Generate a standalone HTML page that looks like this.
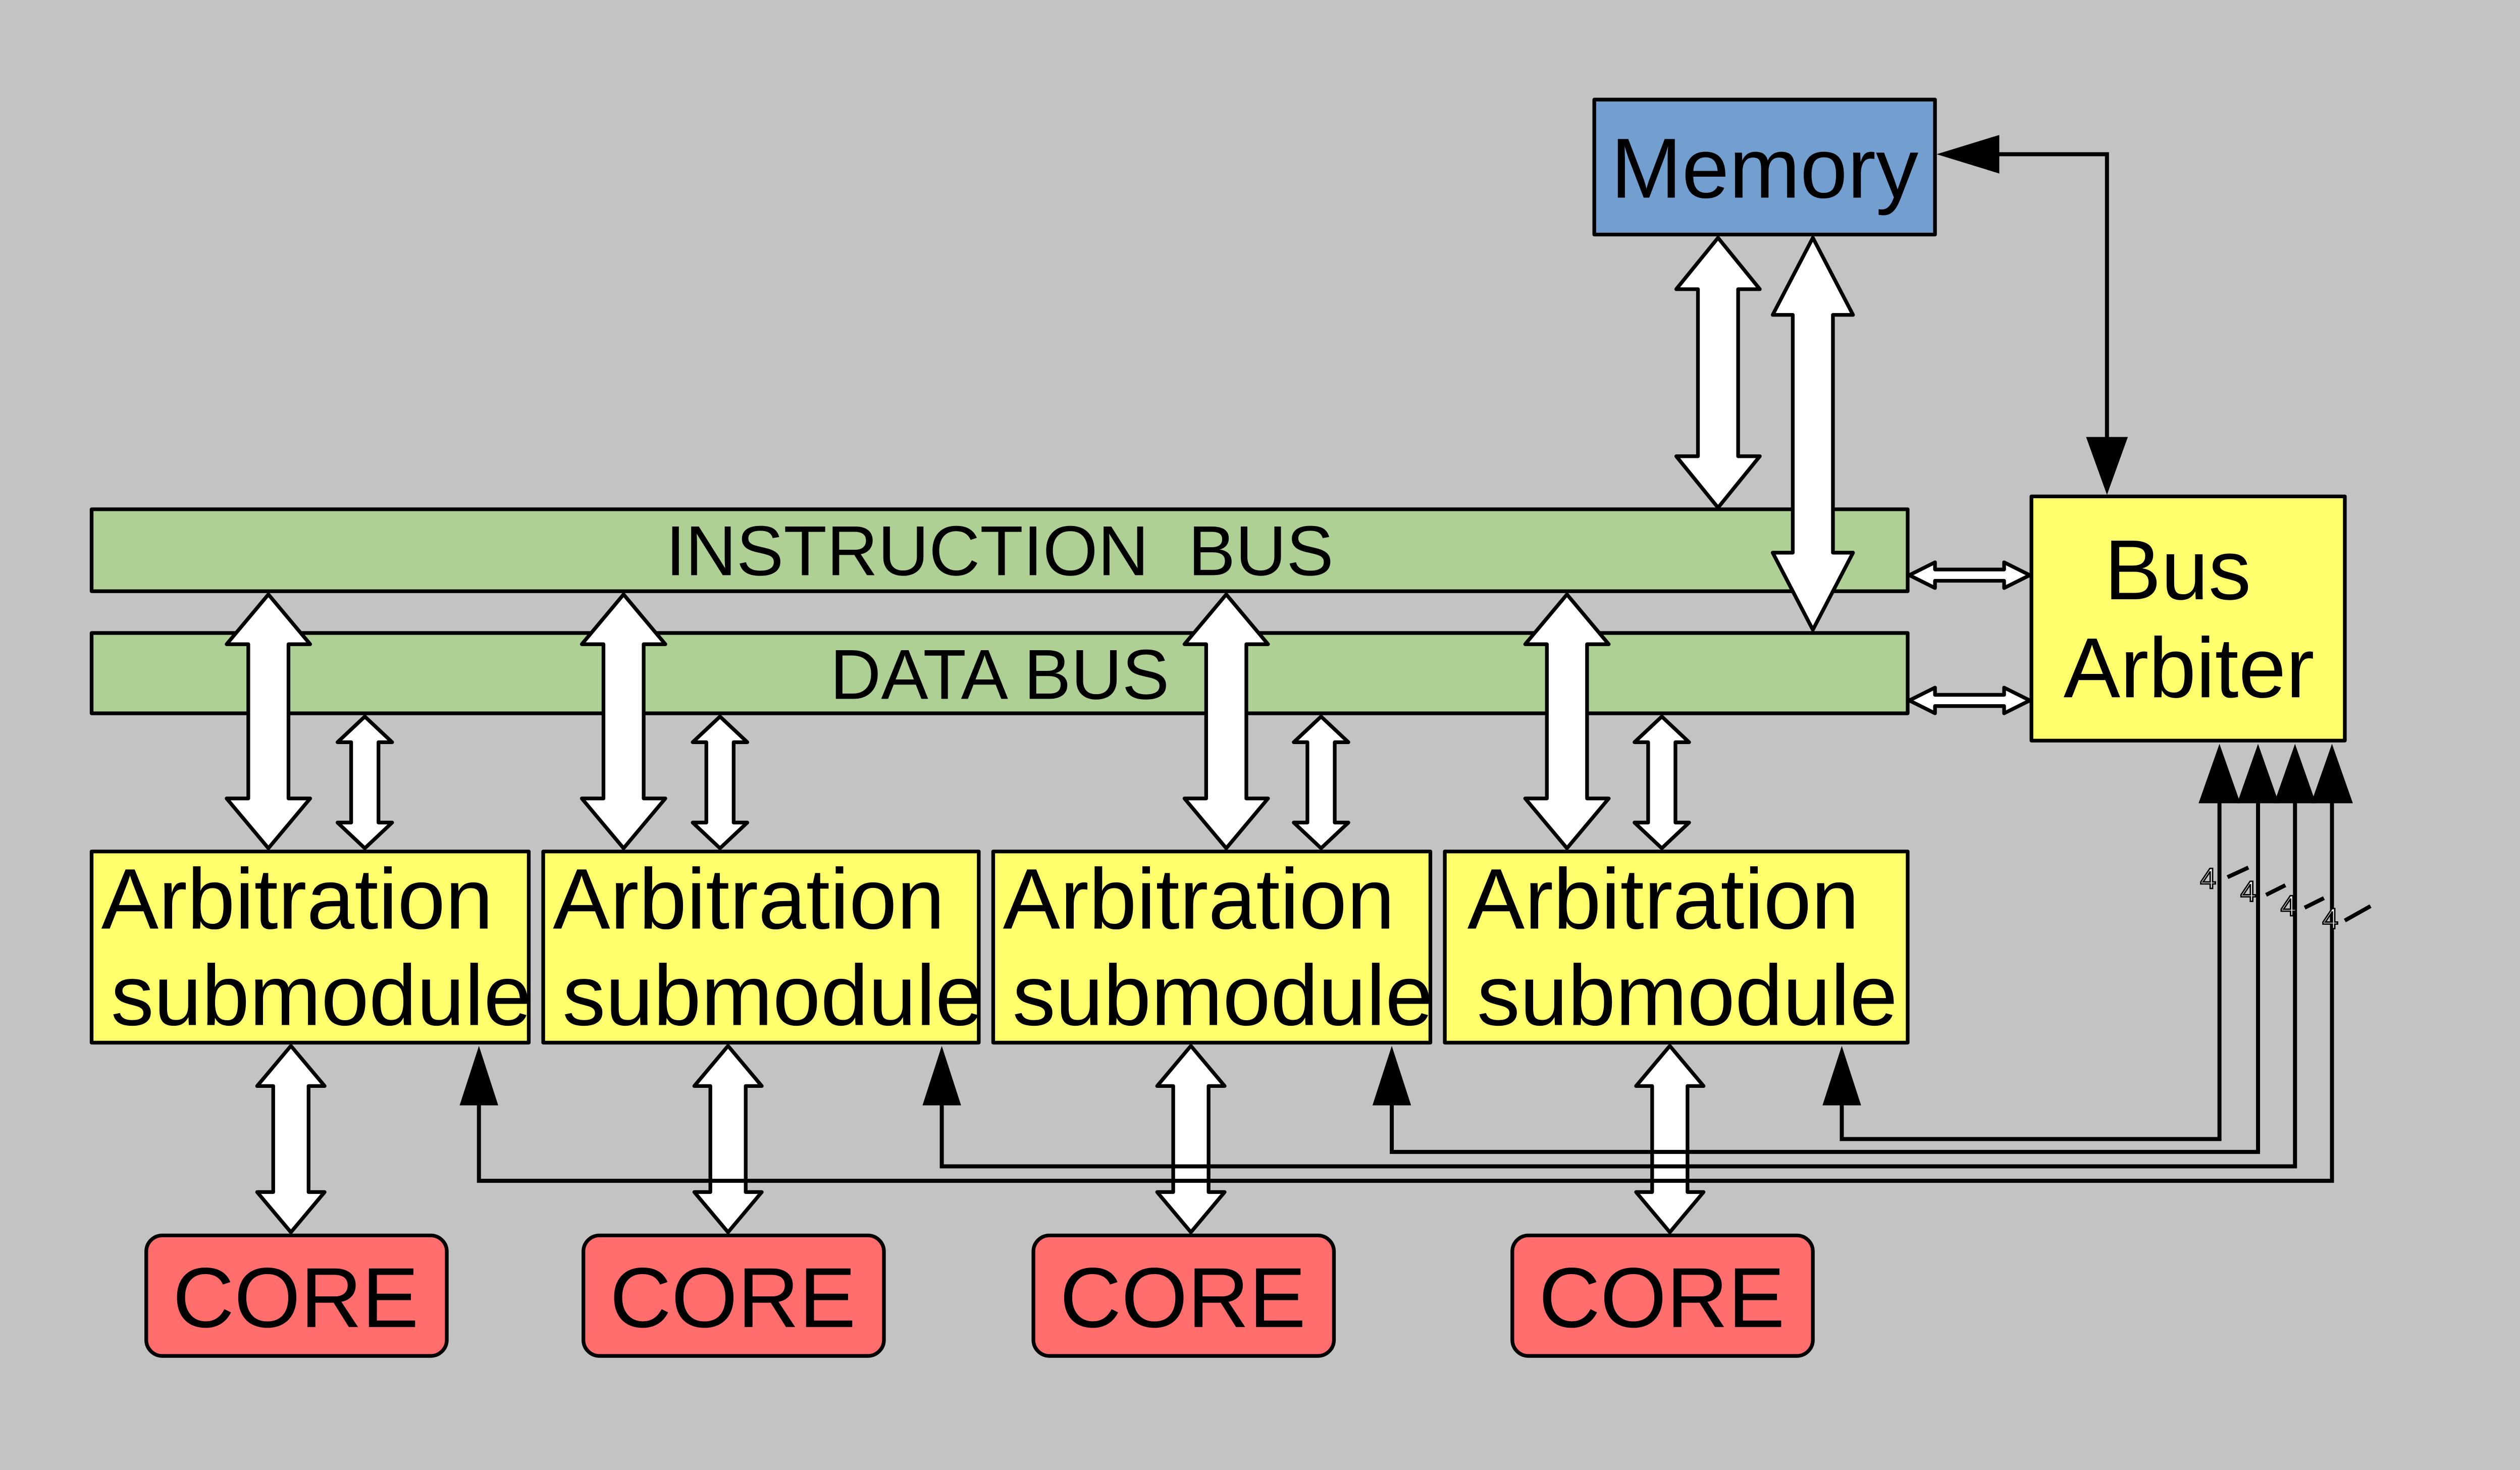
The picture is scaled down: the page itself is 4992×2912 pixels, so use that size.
<!DOCTYPE html>
<html><head><meta charset="utf-8"><style>html,body{margin:0;padding:0;background:#c3c3c3}svg{display:block}</style></head>
<body>
<svg xmlns="http://www.w3.org/2000/svg" width="4992" height="2912" viewBox="0 0 1568 915" preserveAspectRatio="none" font-family="Liberation Sans, sans-serif">
<rect x="0" y="0" width="1568" height="915" fill="#c3c3c3"/>
<g stroke="#000" stroke-width="2.3" stroke-linejoin="round">
<rect x="992" y="62" width="212" height="84" fill="#729fcf"/>
<rect x="57" y="317" width="1130" height="51" fill="#afd095"/>
<rect x="57" y="394" width="1130" height="50" fill="#afd095"/>
<rect x="1264" y="309" width="195" height="152" fill="#ffff6d"/>
<rect x="57" y="530" width="272" height="119" fill="#ffff6d"/>
<rect x="338" y="530" width="271" height="119" fill="#ffff6d"/>
<rect x="618" y="530" width="272" height="119" fill="#ffff6d"/>
<rect x="899" y="530" width="288" height="119" fill="#ffff6d"/>
<rect x="91" y="769" width="187" height="75" rx="10" fill="#ff6d6d"/>
<rect x="363" y="769" width="187" height="75" rx="10" fill="#ff6d6d"/>
<rect x="643" y="769" width="187" height="75" rx="10" fill="#ff6d6d"/>
<rect x="941" y="769" width="187" height="75" rx="10" fill="#ff6d6d"/>
</g>
<g fill="#000">
<text x="622" y="358" font-size="44" text-anchor="middle">INSTRUCTION&#160;&#160;BUS</text>
<text x="622" y="435" font-size="44" text-anchor="middle">DATA BUS</text>
<text x="1098" y="123" font-size="53" text-anchor="middle">Memory</text>
<text x="1355" y="373" font-size="53" text-anchor="middle">Bus</text>
<text x="1362" y="434" font-size="53" text-anchor="middle">Arbiter</text>
<g font-size="53.5">
<text x="63" y="578">Arbitration</text><text x="69" y="638">submodule</text>
<text x="344" y="578">Arbitration</text><text x="350" y="638">submodule</text>
<text x="624" y="578">Arbitration</text><text x="630" y="638">submodule</text>
<text x="913" y="578">Arbitration</text><text x="919" y="638">submodule</text>
</g>
<text x="184" y="826" font-size="53" text-anchor="middle">CORE</text>
<text x="456" y="826" font-size="53" text-anchor="middle">CORE</text>
<text x="736" y="826" font-size="53" text-anchor="middle">CORE</text>
<text x="1034" y="826" font-size="53" text-anchor="middle">CORE</text>
</g>
<g fill="#fff" stroke="#000" stroke-width="2.3" stroke-linejoin="round">
<path d="M167,370 L193,401 L179.5,401 L179.5,497 L193,497 L167,528 L141,497 L154.5,497 L154.5,401 L141,401 Z"/>
<path d="M388,370 L414,401 L400.5,401 L400.5,497 L414,497 L388,528 L362,497 L375.5,497 L375.5,401 L362,401 Z"/>
<path d="M763,370 L789,401 L775.5,401 L775.5,497 L789,497 L763,528 L737,497 L750.5,497 L750.5,401 L737,401 Z"/>
<path d="M975,370 L1001,401 L987.5,401 L987.5,497 L1001,497 L975,528 L949,497 L962.5,497 L962.5,401 L949,401 Z"/>
<path d="M227,446 L244,462 L235.5,462 L235.5,512 L244,512 L227,528 L210,512 L218.5,512 L218.5,462 L210,462 Z"/>
<path d="M448,446 L465,462 L456.5,462 L456.5,512 L465,512 L448,528 L431,512 L439.5,512 L439.5,462 L431,462 Z"/>
<path d="M822,446 L839,462 L830.5,462 L830.5,512 L839,512 L822,528 L805,512 L813.5,512 L813.5,462 L805,462 Z"/>
<path d="M1034,446 L1051,462 L1042.5,462 L1042.5,512 L1051,512 L1034,528 L1017,512 L1025.5,512 L1025.5,462 L1017,462 Z"/>
<path d="M1069,148 L1095,180 L1081.5,180 L1081.5,284 L1095,284 L1069,316 L1043,284 L1056.5,284 L1056.5,180 L1043,180 Z"/>
<path d="M1128,148 L1153,196 L1140.5,196 L1140.5,344 L1153,344 L1128,392 L1103,344 L1115.5,344 L1115.5,196 L1103,196 Z"/>
<path d="M181,651 L202,676 L192,676 L192,742 L202,742 L181,767 L160,742 L170,742 L170,676 L160,676 Z"/>
<path d="M453,651 L474,676 L464,676 L464,742 L474,742 L453,767 L432,742 L442,742 L442,676 L432,676 Z"/>
<path d="M741,651 L762,676 L752,676 L752,742 L762,742 L741,767 L720,742 L730,742 L730,676 L720,676 Z"/>
<path d="M1039,651 L1060,676 L1050,676 L1050,742 L1060,742 L1039,767 L1018,742 L1028,742 L1028,676 L1018,676 Z"/>
<path d="M1188,358 L1204,350 L1204,354.5 L1247,354.5 L1247,350 L1263,358 L1247,366 L1247,361.5 L1204,361.5 L1204,366 Z"/>
<path d="M1188,436 L1204,428 L1204,432.5 L1247,432.5 L1247,428 L1263,436 L1247,444 L1247,439.5 L1204,439.5 L1204,444 Z"/>
</g>
<g fill="none" stroke="#000" stroke-width="2.5">
<polyline points="1240,96 1311,96 1311,275"/>
<polyline points="1381,498 1381,709 1146,709 1146,686"/>
<polyline points="1405,498 1405,717 866,717 866,686"/>
<polyline points="1428,498 1428,726 586,726 586,686"/>
<polyline points="1451,498 1451,735 298,735 298,686"/>
<line x1="1386" y1="546" x2="1399" y2="540"/>
<line x1="1410" y1="557" x2="1422" y2="551"/>
<line x1="1434" y1="565" x2="1446" y2="559"/>
<line x1="1459" y1="573" x2="1475" y2="564"/>
</g>
<g fill="#000">
<polygon points="1205,96 1244,84 1244,108"/>
<polygon points="1311,308 1298,272 1324,272"/>
<polygon points="1381,463 1368,500 1394,500"/>
<polygon points="1405,463 1392,500 1418,500"/>
<polygon points="1428,463 1415,500 1441,500"/>
<polygon points="1451,463 1438,500 1464,500"/>
<polygon points="298,651 286,688 310,688"/>
<polygon points="586,651 574,688 598,688"/>
<polygon points="866,651 854,688 878,688"/>
<polygon points="1146,651 1134,688 1158,688"/>
</g>
<g font-size="18" fill="#fff" stroke="#000" stroke-width="0.9">
<text x="1369" y="553">4</text>
<text x="1394" y="561">4</text>
<text x="1419" y="570">4</text>
<text x="1445" y="578">4</text>
</g>
</svg>
</body></html>
